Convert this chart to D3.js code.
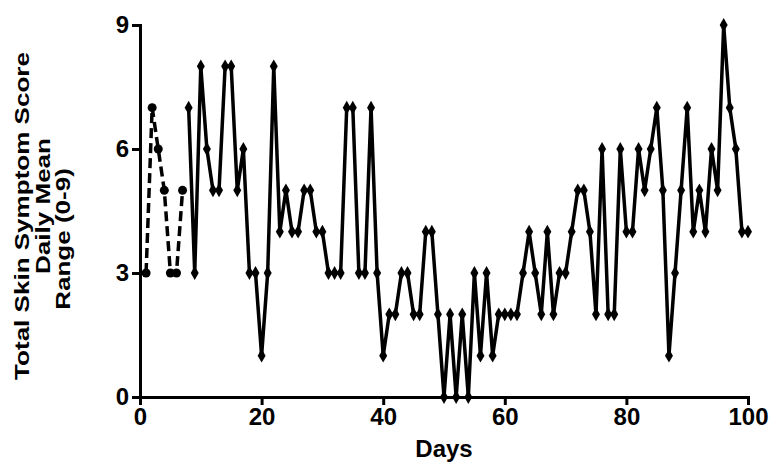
<!DOCTYPE html>
<head>
    <meta charset="utf-8">
    <title>Total Skin Symptom Score</title>
    <script type="text/javascript" src="https://d3js.org/d3.v7.min.js"></script>
    <style>
        body { margin: 0; background: #fff; }
        text { font-family: "Liberation Sans", Arial, sans-serif; font-weight: bold; fill: #000; }
        .axis path, .axis line { stroke: #000; stroke-width: 3; }
        .axis text { font-size: 24px; }
    </style>
</head>
<body>
<div id="container"></div>

<script>
    //----------------------------DATA------------------------------//
    // run-in period (dashed), days 1-7
    const runInDays = [1, 2, 3, 4, 5, 6, 7];
    const runInScores = [3, 7, 6, 5, 3, 3, 5];

    // treatment period (solid), days 8-100
    const studyDays = d3.range(8, 101);
    const studyScores = [
        7, 3, 8, 6, 5, 5, 8, 8, 5, 6, 3, 3, 1, 3, 8,        // 8-22
        4, 5, 4, 4, 5, 5, 4, 4, 3, 3, 3, 7, 7, 3, 3, 7, 3,  // 23-39
        1, 2, 2, 3, 3, 2, 2, 4, 4, 2,                       // 40-49
        0, 2, 0, 2, 0, 3, 1, 3, 1, 2, 2, 2, 2,              // 50-62
        3, 4, 3, 2, 4, 2, 3, 3, 4, 5, 5, 4,                 // 63-74
        2, 6, 2, 2, 6, 4, 4, 6, 5, 6, 7, 5, 1,              // 75-87
        3, 5, 7, 4, 5, 4, 6, 5, 9, 7, 6, 4, 4               // 88-100
    ];

    const xTicks = [0, 20, 40, 60, 80, 100];
    const yTicks = [0, 3, 6, 9];
    const yLabelLines = ["Total Skin Symptom Score", "Daily Mean", "Range (0-9)"];

    //-----------------------------SVG------------------------------//
    const width = 775;
    const height = 465;

    const svg = d3.select("div#container").append("svg")
        .attr("width", width)
        .attr("height", height);

    //----------------------------SCALES----------------------------//
    const xScale = d3.scaleLinear().domain([0, 100]).range([140, 748]);
    const yScale = d3.scaleLinear().domain([0, 9]).range([397, 25]);

    //-----------------------------AXES-----------------------------//
    const xaxis = d3.axisBottom(xScale)
        .tickValues(xTicks)
        .tickSize(8)
        .tickPadding(3);

    const yaxis = d3.axisLeft(yScale)
        .tickValues(yTicks)
        .tickSize(8)
        .tickPadding(3);

    svg.append("g")
        .attr("class", "axis")
        .attr("transform", "translate(0," + yScale(0) + ")")
        .call(xaxis);

    svg.append("g")
        .attr("class", "axis")
        .attr("transform", "translate(" + xScale(0) + ",0)")
        .call(yaxis);

    svg.selectAll(".axis .domain").attr("fill", "none");

    // axis titles
    svg.append("text")
        .attr("x", (xScale(0) + xScale(100)) / 2)
        .attr("y", 457)
        .attr("text-anchor", "middle")
        .style("font-size", "24px")
        .text("Days");

    // the y title in the original is stretched along its length
    const labelPos = [[22, 216], [43, 206], [63, 239]];
    svg.selectAll(".ylabel")
        .data(yLabelLines)
        .enter()
        .append("text")
        .attr("class", "ylabel")
        .attr("transform", function(d, i) {
            return "translate(" + labelPos[i][0] + "," + labelPos[i][1] + ") rotate(-90) scale(1.24,1)";
        })
        .attr("text-anchor", "middle")
        .attr("dy", "0.35em")
        .style("font-size", "21px")
        .text(function(d) { return d; });

    //----------------------------LINES-----------------------------//
    const runIn = runInDays.map(function(d, i) { return {day: d, score: runInScores[i]}; });
    const study = studyDays.map(function(d, i) { return {day: d, score: studyScores[i]}; });

    const line = d3.line()
        .x(function(d) { return xScale(d.day); })
        .y(function(d) { return yScale(d.score); });

    svg.append("path")
        .datum(runIn)
        .attr("fill", "none")
        .attr("stroke", "#000")
        .attr("stroke-width", 3.5)
        .attr("stroke-dasharray", "10,5")
        .attr("d", line);

    svg.append("path")
        .datum(study)
        .attr("fill", "none")
        .attr("stroke", "#000")
        .attr("stroke-width", 3.5)
        .attr("stroke-linejoin", "round")
        .attr("d", line);

    //---------------------------MARKERS----------------------------//
    svg.selectAll(".dot")
        .data(runIn)
        .enter()
        .append("circle")
        .attr("class", "dot")
        .attr("cx", function(d) { return xScale(d.day); })
        .attr("cy", function(d) { return yScale(d.score); })
        .attr("r", 4.5)
        .attr("fill", "#000");

    const diamond = d3.symbol().type(d3.symbolDiamond).size(55);
    svg.selectAll(".diamond")
        .data(study)
        .enter()
        .append("path")
        .attr("class", "diamond")
        .attr("transform", function(d) {
            return "translate(" + xScale(d.day) + "," + yScale(d.score) + ")";
        })
        .attr("d", diamond)
        .attr("fill", "#000");
</script>
</body>
